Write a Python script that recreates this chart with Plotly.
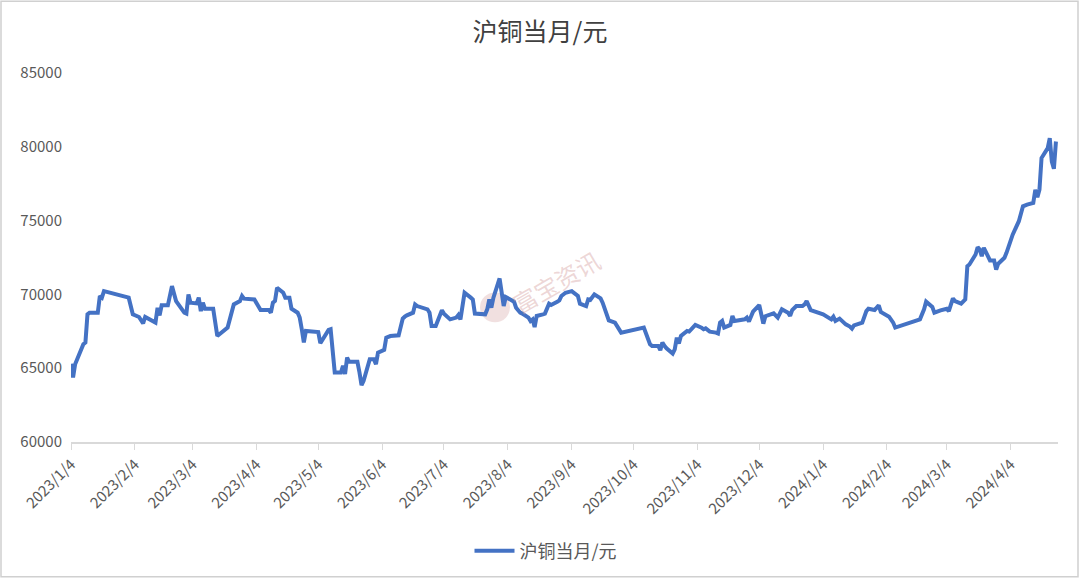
import plotly.graph_objects as go

# ---------------- data ----------------
dates = (
    ["2023-01-04", "2023-01-05", "2023-01-06", "2023-01-10", "2023-01-11", "2023-01-12", "2023-01-13",
     "2023-01-17", "2023-01-18", "2023-01-19", "2023-01-20"]
    + ["2023-02-01", "2023-02-03", "2023-02-06", "2023-02-08", "2023-02-09", "2023-02-14", "2023-02-15",
       "2023-02-16", "2023-02-17", "2023-02-20", "2023-02-22", "2023-02-24", "2023-02-28"]
    + ["2023-03-01", "2023-03-02", "2023-03-03", "2023-03-06", "2023-03-07", "2023-03-08", "2023-03-09",
       "2023-03-10", "2023-03-14", "2023-03-16", "2023-03-21", "2023-03-24", "2023-03-27", "2023-03-28",
       "2023-03-29"]
    + ["2023-04-03", "2023-04-06", "2023-04-10", "2023-04-11", "2023-04-12", "2023-04-13", "2023-04-14",
       "2023-04-17", "2023-04-18", "2023-04-20", "2023-04-21", "2023-04-24", "2023-04-25", "2023-04-26",
       "2023-04-27", "2023-04-28"]
    + ["2023-05-04", "2023-05-05", "2023-05-09", "2023-05-10", "2023-05-12", "2023-05-15", "2023-05-16",
       "2023-05-17", "2023-05-18", "2023-05-19", "2023-05-23", "2023-05-24", "2023-05-25", "2023-05-26",
       "2023-05-29", "2023-05-31"]
    + ["2023-06-01", "2023-06-02", "2023-06-05", "2023-06-06", "2023-06-08", "2023-06-12", "2023-06-14",
       "2023-06-15", "2023-06-16", "2023-06-19", "2023-06-20", "2023-06-21", "2023-06-26", "2023-06-27",
       "2023-06-28", "2023-06-30"]
    + ["2023-07-03", "2023-07-04", "2023-07-06", "2023-07-07", "2023-07-10", "2023-07-11", "2023-07-12",
       "2023-07-14", "2023-07-17", "2023-07-18", "2023-07-19", "2023-07-21", "2023-07-24", "2023-07-25",
       "2023-07-26", "2023-07-27", "2023-07-28", "2023-07-31"]
    + ["2023-08-02", "2023-08-03", "2023-08-07", "2023-08-08", "2023-08-10", "2023-08-11", "2023-08-14",
       "2023-08-15", "2023-08-16", "2023-08-17", "2023-08-18", "2023-08-21", "2023-08-22", "2023-08-24",
       "2023-08-25", "2023-08-28", "2023-08-29", "2023-08-30"]
    + ["2023-09-01", "2023-09-04", "2023-09-06", "2023-09-07", "2023-09-08", "2023-09-11", "2023-09-12",
       "2023-09-13", "2023-09-15", "2023-09-18", "2023-09-19", "2023-09-20", "2023-09-21", "2023-09-22",
       "2023-09-25", "2023-09-28"]
    + ["2023-10-09", "2023-10-12", "2023-10-13", "2023-10-16", "2023-10-17", "2023-10-18", "2023-10-19",
       "2023-10-20", "2023-10-23", "2023-10-24", "2023-10-25", "2023-10-26", "2023-10-27", "2023-10-30",
       "2023-10-31"]
    + ["2023-11-03", "2023-11-06", "2023-11-07", "2023-11-08", "2023-11-10", "2023-11-13", "2023-11-14",
       "2023-11-15", "2023-11-16", "2023-11-17", "2023-11-20", "2023-11-21", "2023-11-22", "2023-11-27",
       "2023-11-28", "2023-11-29", "2023-11-30"]
    + ["2023-12-01", "2023-12-04", "2023-12-05", "2023-12-06", "2023-12-07", "2023-12-11", "2023-12-13",
       "2023-12-15", "2023-12-18", "2023-12-19", "2023-12-20", "2023-12-22", "2023-12-25", "2023-12-26",
       "2023-12-27", "2023-12-28", "2023-12-29"]
    + ["2024-01-04", "2024-01-08", "2024-01-09", "2024-01-10", "2024-01-12", "2024-01-15", "2024-01-17",
       "2024-01-18", "2024-01-19", "2024-01-23", "2024-01-25", "2024-01-26", "2024-01-29", "2024-01-31"]
    + ["2024-02-01", "2024-02-05", "2024-02-07", "2024-02-08", "2024-02-20", "2024-02-22", "2024-02-23",
       "2024-02-26", "2024-02-27", "2024-02-28"]
    + ["2024-03-01", "2024-03-04", "2024-03-05", "2024-03-07", "2024-03-08", "2024-03-11", "2024-03-13",
       "2024-03-14", "2024-03-15", "2024-03-18", "2024-03-19", "2024-03-20", "2024-03-21", "2024-03-22",
       "2024-03-25", "2024-03-27", "2024-03-28", "2024-03-29"]
    + ["2024-04-01", "2024-04-02", "2024-04-05", "2024-04-08", "2024-04-10", "2024-04-12", "2024-04-15",
       "2024-04-16", "2024-04-17", "2024-04-18", "2024-04-19", "2024-04-22", "2024-04-23", "2024-04-24",
       "2024-04-25", "2024-04-26"]
)

prices = (
    [65300, 64370, 65270, 66620, 66740, 68650, 68760, 68760, 69890, 69780, 70220]
    + [69780, 68650, 68470, 68040, 68470, 68090, 69100, 68580, 69260, 69260, 70560, 69550, 68760]
    + [68700, 70000, 69440, 69390, 69780, 68870, 69440, 69030, 69030, 67180, 67750, 69320, 69550, 69890,
       69710]
    + [69660, 68940, 68940, 68760, 69440, 69550, 70450, 70110, 69780, 69780, 69030, 68760, 68430, 67640,
       66740, 67520]
    + [67450, 66690, 67590, 67640, 64710, 64710, 65160, 64600, 65720, 65430, 65430, 64710, 63850, 64140,
       65610, 65610]
    + [65270, 66060, 66240, 67070, 67180, 67230, 68360, 68490, 68580, 68760, 69320, 69210, 68990, 68760,
       67860, 67860]
    + [68920, 68700, 68470, 68310, 68430, 68600, 68310, 70110, 69780, 69660, 68700, 68700, 68650, 68990,
       69660, 69100, 69780, 71080]
    + [69210, 69820, 69510, 69100, 68760, 68700, 68430, 68200, 68310, 67790, 68540, 68650, 68700, 69370,
       69280, 69510, 69590, 69890]
    + [70110, 70220, 69950, 69890, 69370, 69210, 69660, 69620, 70000, 69730, 69440, 68990, 68760, 68240,
       68090, 67410]
    + [67750, 66620, 66510, 66510, 66220, 66740, 66510, 66350, 65990, 66280, 67070, 66670, 67180, 67520,
       67480]
    + [67930, 67750, 67640, 67700, 67480, 67410, 67350, 68090, 68200, 67750, 67930, 68540, 68200, 68310,
       68430, 68160, 68470]
    + [68830, 69280, 68650, 68020, 68520, 68720, 68430, 68990, 68760, 68540, 68940, 69210, 69210, 69320,
       69550, 69170, 68940]
    + [68650, 68310, 68490, 68200, 68360, 67970, 67820, 67680, 67900, 68090, 68870, 69030, 68940, 69260]
    + [68810, 68490, 68090, 67750, 68310, 68990, 69510, 69150, 68760, 68830]
    + [68920, 69030, 68870, 69730, 69550, 69370, 69660, 71910, 72030, 72700, 73200, 73040, 72590, 73160,
       72300, 72300, 71690, 72080]
    + [72480, 72820, 74050, 74960, 75970, 76080, 76200, 77090, 76580, 77090, 79240, 79910, 80580, 79000,
       78510, 80360]
)

series_name = "沪铜当月/元"
chart_title = "沪铜当月/元"

tick_dates = ["2023-01-04", "2023-02-04", "2023-03-04", "2023-04-04", "2023-05-04", "2023-06-04",
              "2023-07-04", "2023-08-04", "2023-09-04", "2023-10-04", "2023-11-04", "2023-12-04",
              "2024-01-04", "2024-02-04", "2024-03-04", "2024-04-04"]
tick_labels = ["2023/1/4", "2023/2/4", "2023/3/4", "2023/4/4", "2023/5/4", "2023/6/4",
               "2023/7/4", "2023/8/4", "2023/9/4", "2023/10/4", "2023/11/4", "2023/12/4",
               "2024/1/4", "2024/2/4", "2024/3/4", "2024/4/4"]
y_ticks = [60000, 65000, 70000, 75000, 80000, 85000]

# ---------------- figure ----------------
FONT = "Noto Sans CJK SC, Noto Sans, sans-serif"
LINE_COLOR = "#4472C4"
AXIS_GRAY = "#d9d9d9"
TEXT_GRAY = "#595959"

fig = go.Figure()
fig.add_trace(go.Scatter(
    x=dates, y=prices, mode="lines", name=series_name,
    line=dict(color=LINE_COLOR, width=4),
))

L, R, T, B = 71, 22, 73, 137
W, H = 1080, 580
pw, ph = W - L - R, H - T - B


def px_x(px):
    return (px - L) / pw


def px_y(py):
    return (H - B - py) / ph


fig.update_layout(
    width=W, height=H,
    margin=dict(l=L, r=R, t=T, b=B),
    paper_bgcolor="white", plot_bgcolor="white",
    font=dict(family=FONT, color=TEXT_GRAY),
    title=dict(text=chart_title, x=0.5, xanchor="center", y=1 - 32 / H, yanchor="middle",
               font=dict(family=FONT, size=25, color="#404040")),
    showlegend=True,
    legend=dict(orientation="h", x=px_x(546), xanchor="center", y=px_y(551), yanchor="middle",
                font=dict(family=FONT, size=18, color=TEXT_GRAY), itemwidth=40),
    xaxis=dict(
        type="date", range=["2023-01-04", "2024-04-27"],
        tickmode="array", tickvals=tick_dates, ticktext=tick_labels,
        tickangle=-45, ticks="outside", ticklen=6, tickcolor=AXIS_GRAY,
        showline=True, linecolor=AXIS_GRAY, linewidth=1.5,
        showgrid=False, zeroline=False,
        tickfont=dict(family=FONT, size=15, color=TEXT_GRAY),
    ),
    yaxis=dict(
        range=[60000, 85000], tickmode="array", tickvals=y_ticks,
        ticktext=[str(v) for v in y_ticks],
        showgrid=False, zeroline=False, showline=False, ticks="",
        ticklabelstandoff=8,
        tickfont=dict(family=FONT, size=15, color=TEXT_GRAY),
    ),
)

# watermark
fig.add_annotation(
    text="富宝资讯", xref="paper", yref="paper", x=px_x(556), y=px_y(282),
    showarrow=False, textangle=-30,
    font=dict(family=FONT, size=24, color="rgba(215,165,165,0.45)"),
)
fig.add_shape(
    type="circle", xref="paper", yref="paper",
    x0=px_x(480), x1=px_x(510), y0=px_y(323), y1=px_y(293),
    fillcolor="rgba(215,165,165,0.35)", line=dict(width=0), layer="below",
)

# chart-area border
fig.add_shape(
    type="rect", xref="paper", yref="paper",
    x0=px_x(1), x1=px_x(1078), y0=px_y(578), y1=px_y(1),
    line=dict(color="#d0d0d0", width=1.5), fillcolor="rgba(0,0,0,0)", layer="below",
)

fig.write_html("out.html")
